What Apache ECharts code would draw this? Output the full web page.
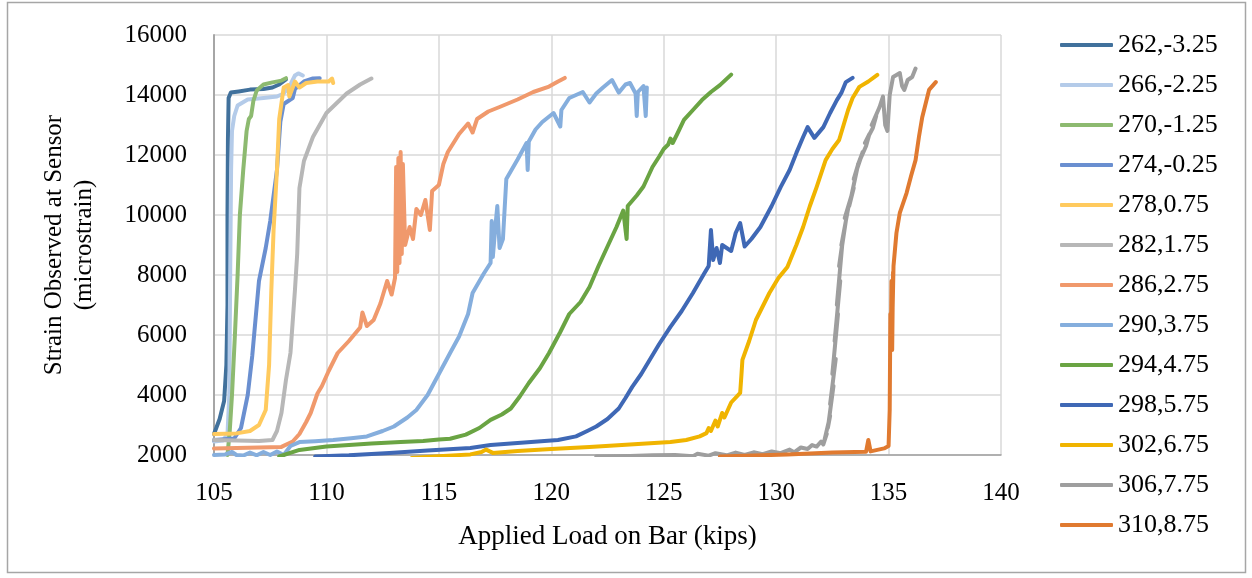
<!DOCTYPE html>
<html>
<head>
<meta charset="utf-8">
<script src="https://cdn.jsdelivr.net/npm/echarts@6/dist/echarts.min.js"></script>
<style>
  html, body { margin: 0; padding: 0; background: #ffffff; }
  #chart { width: 1252px; height: 578px; }
</style>
</head>
<body>
<div id="chart"></div>
<script>
// Applied load (kips) vs. strain (microstrain), one trace per sensor
const seriesNames = ['262,-3.25', '266,-2.25', '270,-1.25', '274,-0.25', '278,0.75', '282,1.75',
  '286,2.75', '290,3.75', '294,4.75', '298,5.75', '302,6.75', '306,7.75', '310,8.75'];

const xTicks = { min: 105, max: 140, step: 5 };
const yTicks = { min: 2000, max: 16000, step: 2000 };

const s262 = [[105.0,2700],[105.25,3200],[105.45,3800],[105.55,5000],[105.6,7000],[105.6,10000],[105.62,12500],
  [105.65,13900],[105.75,14080],[106.1,14120],[106.6,14180],[107.2,14200],[107.6,14250],[107.9,14350],[108.2,14520]];

const s266 = [[105.0,2450],[105.4,2480],[105.6,2700],[105.68,4000],[105.72,8000],[105.76,11500],[105.8,12800],
  [105.9,13300],[106.05,13650],[106.5,13850],[107.2,13900],[107.8,13950],[108.1,14050],[108.4,14350],[108.6,14650],
  [108.75,14720],[108.95,14650]];

const s270 = [[105.6,2000],[105.7,2800],[105.8,4000],[105.93,6000],[106.05,8000],[106.15,10000],[106.3,11500],
  [106.45,12800],[106.55,13200],[106.65,13300],[106.75,13800],[106.9,14150],[107.2,14350],[107.6,14420],[108.0,14480],[108.2,14560]];

const s274 = [[105.0,2500],[105.9,2550],[106.2,2900],[106.5,4000],[106.7,5300],[107.0,7800],[107.3,8900],[107.5,9800],
  [107.8,11500],[107.95,13100],[108.1,13700],[108.3,13800],[108.5,13900],[108.6,14200],[109.0,14450],[109.4,14550],[109.7,14560]];

const s278 = [[105.0,2700],[106.0,2720],[106.6,2800],[107.0,3000],[107.3,3500],[107.45,5000],[107.55,7500],[107.65,9500],
  [107.8,11500],[107.9,13200],[108.1,14250],[108.3,14330],[108.35,13950],[108.6,14450],[108.8,14250],[109.1,14400],
  [109.6,14450],[110.1,14450],[110.25,14550],[110.3,14400]];

const s282 = [[105.0,2500],[106.0,2480],[107.0,2470],[107.6,2500],[107.8,2800],[108.0,3400],[108.2,4500],[108.4,5400],
  [108.6,7500],[108.7,8700],[108.8,10900],[109.0,11800],[109.4,12600],[110.0,13400],[110.9,14050],[111.5,14350],[112.0,14550]];

const s286 = [[105.0,2220],[106.0,2230],[107.0,2250],[108.0,2270],[108.5,2450],[108.8,2700],[109.1,3100],[109.3,3400],
  [109.6,4050],[109.8,4300],[110.1,4800],[110.5,5400],[111.0,5800],[111.5,6250],[111.6,6750],[111.8,6300],[112.1,6500],
  [112.4,7050],[112.7,7800],[112.9,7350],[113.05,7900],[113.1,11600],[113.15,8100],[113.2,11900],[113.25,8400],
  [113.3,12100],[113.35,8700],[113.4,11700],[113.5,9000],[113.7,9600],[113.85,9200],[114.0,10200],[114.2,10000],
  [114.4,10500],[114.6,9500],[114.7,10800],[115.0,11000],[115.2,11700],[115.4,12100],[115.9,12700],[116.3,13050],
  [116.5,12750],[116.7,13200],[117.2,13450],[117.7,13600],[118.5,13850],[119.2,14100],[119.9,14280],[120.3,14450],[120.6,14570]];

const s290 = [[105.0,2000],[105.5,2020],[105.8,2100],[106.0,2000],[106.3,1980],[106.6,2080],[106.9,1990],[107.2,2100],
  [107.5,2000],[107.8,2120],[108.1,2000],[108.4,2300],[108.8,2430],[109.5,2460],[110.3,2500],[111.1,2560],[111.8,2620],
  [112.5,2800],[113.0,2950],[113.6,3250],[114.0,3500],[114.5,4000],[115.0,4700],[115.5,5400],[115.9,5950],[116.3,6700],
  [116.5,7400],[117.0,8050],[117.3,8400],[117.35,9800],[117.4,8600],[117.5,9500],[117.6,10300],[117.7,8900],[117.85,9200],
  [118.0,11200],[118.5,11850],[118.9,12400],[118.95,11500],[119.0,12450],[119.3,12850],[119.6,13100],[120.1,13400],
  [120.4,12950],[120.45,13500],[120.8,13900],[121.4,14100],[121.7,13750],[122.0,14050],[122.3,14250],[122.7,14500],
  [123.0,14080],[123.3,14350],[123.5,14400],[123.75,14050],[123.8,13300],[123.85,14100],[124.1,14300],[124.2,13300],[124.25,14250]];

const s294 = [[107.9,1950],[108.8,2170],[110.0,2280],[111.0,2330],[112.0,2380],[113.3,2430],[114.3,2470],[115.0,2520],
  [115.5,2540],[116.2,2680],[116.8,2900],[117.3,3170],[117.8,3350],[118.2,3550],[118.6,3950],[119.0,4400],[119.5,4900],
  [119.9,5400],[120.4,6100],[120.8,6700],[121.3,7100],[121.7,7600],[122.1,8300],[122.5,8950],[122.9,9600],[123.2,10150],
  [123.35,9200],[123.4,10300],[123.8,10650],[124.1,10950],[124.5,11600],[124.8,11950],[125.0,12200],[125.2,12350],
  [125.3,12550],[125.4,12400],[125.6,12700],[125.9,13170],[126.3,13500],[126.7,13830],[127.1,14100],[127.5,14330],[128.0,14680]];

const s298 = [[109.5,1950],[111.0,1990],[112.8,2070],[114.5,2150],[116.4,2230],[117.3,2330],[118.5,2400],[120.3,2500],
  [121.1,2620],[121.6,2800],[122.0,2950],[122.5,3200],[123.0,3550],[123.3,3900],[123.6,4270],[124.0,4700],[124.4,5200],
  [124.8,5700],[125.3,6270],[125.8,6800],[126.3,7400],[126.8,8050],[127.0,8300],[127.1,9500],[127.2,8500],[127.35,8900],
  [127.5,8400],[127.6,9000],[127.8,8900],[128.0,8800],[128.2,9400],[128.4,9730],[128.6,8950],[128.9,9200],[129.3,9600],
  [129.8,10300],[130.2,10930],[130.6,11500],[130.9,12070],[131.2,12600],[131.4,12930],[131.7,12570],[132.1,12930],
  [132.4,13400],[132.7,13830],[132.9,14070],[133.1,14430],[133.4,14570]];

const s302 = [[113.8,1900],[115.0,1960],[116.4,2020],[116.9,2100],[117.1,2180],[117.4,2070],[118.5,2130],[120.0,2200],
  [121.7,2270],[123.5,2350],[125.3,2430],[126.0,2500],[126.6,2620],[126.9,2730],[127.0,2900],[127.1,2800],[127.3,3150],
  [127.4,2950],[127.6,3400],[127.7,3250],[128.0,3750],[128.4,4070],[128.45,4600],[128.5,5170],[128.8,5800],[129.1,6500],
  [129.7,7400],[130.1,7900],[130.5,8270],[130.9,9000],[131.2,9600],[131.5,10300],[131.8,10930],[132.2,11830],[132.5,12200],
  [132.8,12500],[133.0,13000],[133.2,13500],[133.4,13900],[133.7,14270],[134.1,14450],[134.5,14670]];

const s306 = [[122.0,1950],[123.5,1970],[124.5,1990],[125.5,2000],[126.3,1960],[126.5,2040],[127.0,1980],[127.3,2060],
  [127.8,1990],[128.2,2080],[128.6,2000],[129.0,2090],[129.4,2030],[129.8,2120],[130.2,2060],[130.6,2180],[130.8,2090],
  [131.1,2250],[131.4,2200],[131.6,2330],[131.8,2280],[132.0,2450],[132.1,2350],[132.25,2700],[132.15,2500],[132.4,3300],
  [132.3,2900],[132.55,4300],[132.4,3700],[132.65,5200],[132.5,4700],[132.75,6700],[132.6,5800],[132.85,7800],[132.7,7000],
  [132.95,9100],[132.8,8300],[133.1,9800],[132.9,9000],[133.25,10400],[133.05,9900],[133.45,10900],[133.25,10300],
  [133.65,11700],[133.45,11200],[133.85,12100],[133.65,11700],[134.0,12300],[134.15,12700],[133.95,12400],[134.3,12900],
  [134.45,13300],[134.25,13000],[134.6,13600],[134.75,13950],[134.85,13000],[134.95,12800],[135.05,14000],[135.2,14600],
  [135.5,14730],[135.6,14300],[135.7,14170],[135.85,14500],[136.05,14600],[136.2,14880]];

const s310 = [[127.5,1950],[129.0,1980],[130.5,2020],[131.5,2050],[132.5,2080],[133.5,2100],[134.0,2110],[134.1,2500],
  [134.2,2120],[134.8,2220],[135.0,2300],[135.05,3500],[135.08,6700],[135.1,5600],[135.13,7800],[135.16,5500],[135.2,8100],
  [135.17,6500],[135.22,8300],[135.35,9400],[135.5,10070],[135.8,10730],[136.0,11300],[136.2,11830],[136.35,12600],
  [136.5,13270],[136.8,14170],[137.1,14430]];

const seriesData = [s262, s266, s270, s274, s278, s282, s286, s290, s294, s298, s302, s306, s310];

const colors = ['#41719C', '#B4CBE9', '#8DBA70', '#6A8FD0', '#FFCA5E', '#B7B7B7', '#F0996C',
  '#85AEDD', '#6AA443', '#3F68B5', '#F0B400', '#9E9E9E', '#E07A30'];

const FONT = '"Liberation Serif", "Times New Roman", serif';

const chart = echarts.init(document.getElementById('chart'), null, { renderer: 'canvas' });

chart.setOption({
  animation: false,
  backgroundColor: '#ffffff',
  color: colors,
  textStyle: { fontFamily: FONT, color: '#000000' },
  grid: { left: 214, right: 251, top: 35, bottom: 123, containLabel: false },
  graphic: [{
    type: 'rect',
    shape: { x: 7.5, y: 2.5, width: 1238, height: 570 },
    style: { fill: 'none', stroke: '#A6A6A6', lineWidth: 1.5 },
    silent: true, z: -1
  }],
  legend: {
    orient: 'vertical',
    left: 1060,
    top: 32,
    padding: 0,
    itemGap: 14,
    itemWidth: 53,
    itemHeight: 4,
    icon: 'roundRect',
    textStyle: { fontFamily: FONT, fontSize: 26, lineHeight: 26, color: '#000000' },
    data: seriesNames
  },
  xAxis: {
    type: 'value',
    min: xTicks.min,
    max: xTicks.max,
    interval: xTicks.step,
    name: 'Applied Load on Bar (kips)',
    nameLocation: 'middle',
    nameGap: 68,
    nameTextStyle: { fontFamily: FONT, fontSize: 27, color: '#000000' },
    axisLine: { show: true, lineStyle: { color: '#A0A0A0', width: 1.5 } },
    axisTick: { show: false },
    axisLabel: { fontFamily: FONT, fontSize: 25, color: '#000000', margin: 26 },
    splitLine: { show: true, lineStyle: { color: '#D9D9D9', width: 1.5 } }
  },
  yAxis: {
    type: 'value',
    min: yTicks.min,
    max: yTicks.max,
    interval: yTicks.step,
    name: 'Strain Observed at Sensor\n(microstrain)',
    nameLocation: 'middle',
    nameRotate: 90,
    nameGap: 115,
    nameTextStyle: { fontFamily: FONT, fontSize: 25, lineHeight: 30, color: '#000000', align: 'center' },
    axisLine: { show: true, lineStyle: { color: '#A6A6A6', width: 2 } },
    axisTick: { show: false },
    axisLabel: { fontFamily: FONT, fontSize: 25, color: '#000000', margin: 27, formatter: (v) => String(v) },
    splitLine: { show: true, lineStyle: { color: '#D9D9D9', width: 1.5 } }
  },
  series: seriesNames.map((name, i) => ({
    name: name,
    type: 'line',
    data: seriesData[i],
    showSymbol: false,
    symbol: 'none',
    clip: true,
    lineStyle: { width: 4, cap: 'round', join: 'round' },
    emphasis: { disabled: true }
  }))
});
</script>
</body>
</html>
